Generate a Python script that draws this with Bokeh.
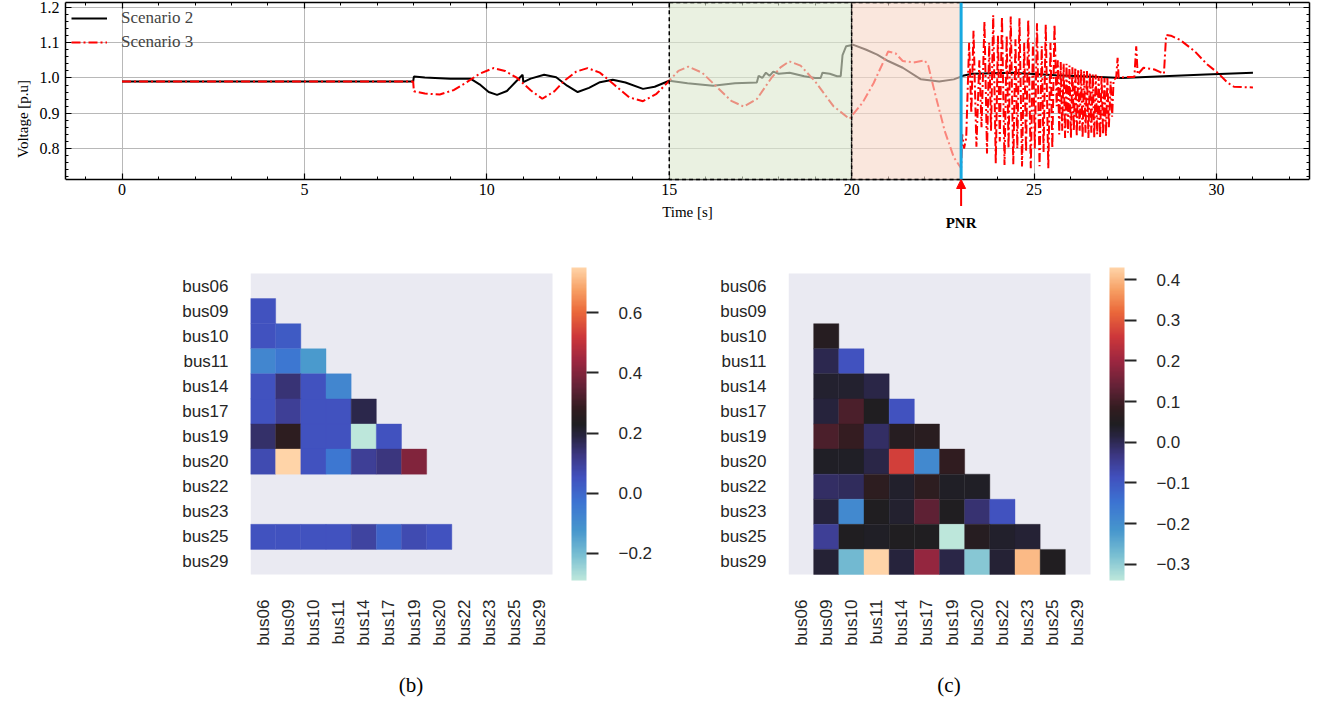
import numpy as np
from bokeh.plotting import figure
from bokeh.models import (Range1d, LinearAxis, SingleIntervalTicker, FixedTicker, PrintfTickFormatter,
                          CustomJSTickFormatter, BoxAnnotation, Arrow, NormalHead, Label, Legend,
                          LegendItem, ColumnDataSource, LinearColorMapper, ColorBar, Spacer, Grid)
from bokeh.layouts import column, row
from bokeh.embed import file_html
from bokeh.resources import INLINE
from bokeh.transform import transform

# ---------------- data: voltage time series ----------------
t_s2 = [0.0, 7.98, 8.0, 8.3, 9.0, 9.55, 9.8, 10.05, 10.28, 10.55, 10.8, 10.98, 11.0, 11.2, 11.57, 11.9,
        12.2, 12.49, 12.8, 13.1, 13.45, 13.8, 14.28, 14.6, 15.0, 15.5, 16.2, 16.8, 17.4, 17.45, 17.55,
        17.65, 17.75, 17.85, 18.0, 18.3, 18.7, 19.0, 19.15, 19.2, 19.4, 19.6, 19.7, 19.75, 19.85, 20.05,
        20.4, 20.7, 21.0, 21.4, 21.9, 22.4, 22.8, 23.05, 23.3, 24.4, 25.6, 26.8, 27.4, 29.7, 31.0]
v_s2 = [0.99, 0.99, 1.004, 1.001, 0.998, 0.998, 0.982, 0.96, 0.952, 0.963, 0.99, 1.009, 0.988, 0.998, 1.009, 1.002,
        0.978, 0.96, 0.972, 0.988, 0.995, 0.987, 0.969, 0.975, 0.992, 0.985, 0.978, 0.985, 0.987, 1.006, 1.0,
        1.015, 1.006, 1.018, 1.012, 1.015, 1.005, 1.0, 1.0, 1.015, 1.012, 1.005, 1.005, 1.065, 1.09, 1.094,
        1.08, 1.066, 1.048, 1.029, 0.996, 0.99, 0.996, 1.006, 1.012, 1.015, 1.008, 1.003, 1.0, 1.01, 1.015]

t_s3_a = [0.0, 7.98, 8.0, 8.3, 8.71, 9.1, 9.45, 9.8, 10.18, 10.5, 10.83, 11.2, 11.52, 11.85, 12.12, 12.45,
          12.76, 13.1, 13.5, 13.9, 14.28, 14.65, 15.0, 15.25, 15.52, 15.9, 16.3, 16.7, 17.04, 17.4, 17.8,
          18.05, 18.29, 18.6, 19.0, 19.5, 19.94, 20.3, 20.6, 21.0, 21.2, 21.4, 21.7, 22.0, 22.1, 22.3,
          22.55, 22.8, 23.0]
v_s3_a = [0.99, 0.99, 0.962, 0.956, 0.953, 0.966, 0.988, 1.012, 1.028, 1.02, 1.0, 0.965, 0.941, 0.962, 0.992, 1.018,
          1.028, 1.015, 0.98, 0.945, 0.934, 0.955, 0.992, 1.02, 1.032, 1.015, 0.975, 0.935, 0.919, 0.94, 1.0,
          1.03, 1.047, 1.035, 0.99, 0.92, 0.884, 0.93, 0.985, 1.075, 1.07, 1.048, 1.044, 1.05, 1.035, 0.95,
          0.85, 0.775, 0.744]
t_s3_b = [23.03, 23.08, 23.14, 23.22, 23.28, 23.34, 23.42, 23.5, 23.56, 23.64, 23.71, 23.77, 23.82, 23.88,
          23.95, 24.01, 24.06, 24.12, 24.19, 24.25, 24.3, 24.36, 24.43, 24.49, 24.54, 24.6, 24.67, 24.73,
          24.78, 24.84, 24.91, 24.97, 25.02, 25.08, 25.15, 25.21, 25.26, 25.32, 25.39, 25.45, 25.5, 25.56,
          25.62]
v_s3_b = [0.84, 0.80, 0.83, 1.10, 0.90, 1.134, 0.805, 1.05, 0.86, 1.16, 0.786, 1.10, 0.85, 1.178,
          0.758, 1.12, 0.82, 1.174, 0.753, 1.12, 0.80, 1.174, 0.755, 1.11, 0.80, 1.169, 0.749, 1.10,
          0.79, 1.164, 0.744, 1.10, 0.80, 1.155, 0.75, 1.09, 0.79, 1.152, 0.744, 1.10, 0.80, 1.152,
          0.92]
t_s3_c = [25.65, 25.69, 25.73, 25.77, 25.81, 25.85, 25.89, 25.93, 25.97, 26.01, 26.05, 26.09, 26.13, 26.17,
          26.21, 26.25, 26.29, 26.33, 26.37, 26.41, 26.45, 26.49, 26.53, 26.57, 26.61, 26.65, 26.69, 26.73,
          26.77, 26.81, 26.85, 26.89, 26.93, 26.97, 27.01, 27.05, 27.1, 27.14, 27.18]
v_s3_c = [1.05, 0.84, 1.045, 0.85, 1.04, 0.83, 1.04, 0.845, 1.035, 0.83, 1.03, 0.85, 1.03, 0.835,
          1.025, 0.85, 1.025, 0.83, 1.02, 0.845, 1.02, 0.83, 1.015, 0.845, 1.01, 0.83, 1.01, 0.84,
          1.005, 0.83, 1.005, 0.84, 1.0, 0.835, 1.0, 0.86, 0.99, 0.89, 0.995]
t_s3_d = [27.25, 27.29, 27.32, 27.5, 27.75, 27.8, 27.84, 28.0, 28.3, 28.56, 28.62, 28.75, 29.0, 29.4,
          29.75, 30.03, 30.3, 30.48, 31.0]
v_s3_d = [1.0, 1.057, 1.0, 1.003, 1.003, 1.09, 1.01, 1.029, 1.024, 1.012, 1.122, 1.12, 1.108, 1.076,
          1.038, 1.015, 0.987, 0.975, 0.973]

stage_start = [15, 20]
stage_end = [20, 23]
stage_fill = ["#dde9cf", "#f7d9c8"]
pnr_time = 23

# ---------------- data: correlation heatmaps ----------------
buses = ["bus06", "bus09", "bus10", "bus11", "bus14", "bus17", "bus19", "bus20", "bus22", "bus23", "bus25", "bus29"]

corr_b_rows = [
    [],
    [0.05],
    [0.05, 0.03],
    [-0.08, -0.04, -0.13],
    [0.05, 0.14, 0.05, -0.08],
    [0.05, 0.10, 0.05, 0.05, 0.18],
    [0.15, 0.27, 0.05, 0.05, -0.29, 0.05],
    [0.07, 0.75, 0.05, -0.04, 0.10, 0.13, 0.40],
    [],
    [],
    [0.05, 0.05, 0.05, 0.05, 0.09, 0.01, 0.07, 0.05],
    [],
]
corr_c_rows = [
    [],
    [],
    [None, 0.06],
    [None, 0.005, -0.09],
    [None, 0.03, 0.03, 0.01],
    [None, 0.02, 0.11, 0.045, -0.09],
    [None, 0.11, 0.085, -0.01, 0.06, 0.065],
    [None, 0.04, 0.04, 0.01, 0.27, -0.19, 0.08],
    [None, -0.01, -0.005, 0.075, 0.035, 0.075, 0.04, 0.04],
    [None, 0.02, -0.19, 0.045, 0.03, 0.13, 0.045, -0.02, -0.09],
    [None, -0.05, 0.045, 0.04, 0.045, 0.045, -0.34, 0.06, 0.035, 0.025],
    [None, 0.025, -0.27, 0.43, 0.02, 0.19, 0.01, -0.29, 0.025, 0.40, 0.05],
]
cbar_b_ticks = [-0.2, 0.0, 0.2, 0.4, 0.6]
cbar_c_ticks = [-0.3, -0.2, -0.1, 0.0, 0.1, 0.2, 0.3, 0.4]

# icefire-like palette anchors
ice_t = [0.0, 0.08, 0.16, 0.25, 0.33, 0.40, 0.46, 0.50, 0.55, 0.62, 0.70, 0.78, 0.86, 0.93, 1.0]
ice_rgb = [(189, 231, 219), (120, 190, 210), (70, 150, 205), (60, 115, 210), (65, 80, 190), (60, 55, 130),
           (40, 36, 65), (31, 30, 33), (50, 28, 32), (100, 34, 55), (155, 38, 64), (205, 55, 58),
           (235, 105, 58), (247, 160, 100), (255, 212, 168)]
ss = np.linspace(0, 1, 256)
chans = [np.interp(ss, ice_t, [c[k] for c in ice_rgb]) for k in range(3)]
icefire = ["#%02x%02x%02x" % (int(round(chans[0][i])), int(round(chans[1][i])), int(round(chans[2][i])))
           for i in range(256)]

SERIF = "Liberation Serif"
SANS = "Liberation Sans"
BLANK = CustomJSTickFormatter(code="return ''")

# ---------------- top: voltage plot ----------------
x_lo, x_hi = -1.55, 32.55
y_lo, y_hi = 0.712, 1.214
y_ext = 0.5532          # extra room below the axis for the PNR marker
p = figure(width=1322, height=235, x_range=Range1d(x_lo, x_hi), y_range=Range1d(y_ext, y_hi),
           output_backend="svg", toolbar_location=None, min_border_left=65, min_border_right=13,
           min_border_top=2, min_border_bottom=0)
p.outline_line_color = None
p.xaxis.visible = False
p.yaxis.visible = False
p.grid.visible = False


def style_axis(ax, labels=True):
    ax.major_tick_in = 6
    ax.major_tick_out = 0
    ax.minor_tick_in = 3
    ax.minor_tick_out = 0
    ax.axis_line_width = 1.5
    ax.axis_line_color = "black"
    ax.major_tick_line_width = 1.2
    ax.major_label_text_font = SERIF
    ax.major_label_text_font_size = "16px"
    ax.major_label_text_color = "black"
    ax.axis_label_text_font = SERIF
    ax.axis_label_text_font_size = "15px"
    ax.axis_label_text_font_style = "normal"
    ax.axis_label_text_color = "black"
    if not labels:
        ax.formatter = BLANK
        ax.major_label_standoff = 0


xtick = SingleIntervalTicker(interval=5, num_minor_ticks=5)
ytick = SingleIntervalTicker(interval=0.1, num_minor_ticks=5)

xax = LinearAxis(ticker=xtick, axis_label="Time [s]", fixed_location=y_lo)
style_axis(xax)
xax.major_label_standoff = 4
xax.axis_label_standoff = 6
p.add_layout(xax, "below")

yax = LinearAxis(ticker=ytick, axis_label="Voltage [p.u]", bounds=(y_lo, y_hi),
                 formatter=PrintfTickFormatter(format="%.1f"))
style_axis(yax)
yax.major_label_standoff = 6
yax.axis_label_standoff = 6
p.add_layout(yax, "left")

tax = LinearAxis(ticker=SingleIntervalTicker(interval=5, num_minor_ticks=5))
style_axis(tax, labels=False)
p.add_layout(tax, "above")
rax = LinearAxis(ticker=SingleIntervalTicker(interval=0.1, num_minor_ticks=5), bounds=(y_lo, y_hi))
style_axis(rax, labels=False)
p.add_layout(rax, "right")

p.add_layout(Grid(dimension=0, ticker=xtick, grid_line_color="#b8b8b8", grid_line_width=1))
p.add_layout(Grid(dimension=1, ticker=ytick, bounds=(y_lo, y_hi), grid_line_color="#b8b8b8", grid_line_width=1))

# white cover under the axis line (hides grid there)
p.quad(left=[x_lo], right=[x_hi], bottom=[y_ext], top=[y_lo], fill_color="white", line_color=None)

t_s3 = t_s3_a + t_s3_b + t_s3_c + t_s3_d
v_s3 = v_s3_a + v_s3_b + v_s3_c + v_s3_d
r2 = p.line(t_s2, v_s2, line_color="black", line_width=2)
r3 = p.line(t_s3, v_s3, line_color="red", line_width=2, line_dash="9 3 2 3")

for a, b, c in zip(stage_start, stage_end, stage_fill):
    p.add_layout(BoxAnnotation(left=a, right=b, bottom=y_lo, top=y_hi, fill_color=c, fill_alpha=0.62,
                               line_color="black", line_alpha=1.0, line_dash="4 3", line_width=1.5))
p.add_layout(Arrow(end=None, x_start=pnr_time, y_start=y_lo, x_end=pnr_time, y_end=y_hi,
                   line_color="#17a9e1", line_width=3))
p.add_layout(Arrow(end=NormalHead(size=9, fill_color="red", line_color="red"), x_start=pnr_time,
                   y_start=y_lo - 0.075, x_end=pnr_time, y_end=y_lo, line_color="red", line_width=2))
p.add_layout(Label(x=pnr_time, y=y_lo - 0.122, text="PNR", text_align="center", text_baseline="middle",
                   text_font=SERIF, text_font_size="15px", text_font_style="bold", text_color="black"))

legend = Legend(items=[LegendItem(label="Scenario 2", renderers=[r2]),
                       LegendItem(label="Scenario 3", renderers=[r3])],
                location="top_left", border_line_color=None, background_fill_alpha=0,
                label_text_font=SERIF, label_text_font_size="17px", glyph_width=36, glyph_height=18,
                label_standoff=14, spacing=4, margin=6, padding=3)
p.add_layout(legend)


# ---------------- heatmaps ----------------
def heatmap(rows, low, high, ticks, caption, left, width):
    n = len(buses)
    pad = 0.24
    gap = 19 * n / 302.0          # room between the cells and the colour bar
    xs, ys, vs = [], [], []
    for i, r in enumerate(rows):
        for j, v in enumerate(r):
            if v is not None:
                xs.append(j)
                ys.append(i)
                vs.append(v)
    mapper = LinearColorMapper(palette=icefire, low=low, high=high)
    h = figure(width=width, height=467, x_range=Range1d(-0.5, n - 0.5 + gap),
               y_range=Range1d(n - 0.5 + pad, -0.5 - pad), output_backend="svg", toolbar_location=None,
               min_border_left=left, min_border_right=width - left - 321, min_border_top=32,
               min_border_bottom=122)
    h.outline_line_color = None
    h.grid.grid_line_color = None
    h.quad(left=[-0.5], right=[n - 0.5], bottom=[n - 0.5], top=[-0.5], fill_color="#eaeaf2", line_color=None)
    src = ColumnDataSource(dict(x=xs, y=ys, v=vs))
    h.rect(x="x", y="y", width=1, height=1, source=src, fill_color=transform("v", mapper),
           line_color=transform("v", mapper), line_width=0.4)
    for ax in [h.xaxis[0], h.yaxis[0]]:
        ax.ticker = FixedTicker(ticks=list(range(n)))
        ax.major_label_overrides = {i: b for i, b in enumerate(buses)}
        ax.major_tick_line_color = None
        ax.minor_tick_line_color = None
        ax.axis_line_color = None
        ax.major_tick_in = 0
        ax.major_tick_out = 0
        ax.major_label_text_font = SANS
        ax.major_label_text_font_size = "17px"
        ax.major_label_text_color = "#262626"
    h.xaxis.major_label_orientation = np.pi / 2
    h.xaxis.major_label_standoff = 19
    h.yaxis.major_label_standoff = 22
    h.xaxis.axis_label = caption
    h.xaxis.axis_label_standoff = 24
    h.xaxis.axis_label_text_font = SERIF
    h.xaxis.axis_label_text_font_size = "21px"
    h.xaxis.axis_label_text_font_style = "normal"
    h.xaxis.axis_label_text_color = "black"
    cb = ColorBar(color_mapper=mapper, ticker=FixedTicker(ticks=ticks),
                  formatter=CustomJSTickFormatter(code="return tick.toFixed(1).replace('-', '\u2212')"),
                  width=15, padding=0, margin=0, major_tick_in=0, major_tick_out=12,
                  major_tick_line_color="#262626", major_tick_line_width=2, bar_line_color=None,
                  label_standoff=20, major_label_text_font=SANS, major_label_text_font_size="17px",
                  major_label_text_color="#262626", background_fill_color=None, border_line_color=None)
    h.add_layout(cb, "right")
    return h


hb = heatmap(corr_b_rows, -0.29, 0.75, cbar_b_ticks, "(b)", 100, 540)
hc = heatmap(corr_c_rows, -0.34, 0.43, cbar_c_ticks, "(c)", 98, 632)

layout = column(p, row(Spacer(width=150, height=467), hb, hc))
open("out.html", "w").write(file_html(layout, INLINE))
